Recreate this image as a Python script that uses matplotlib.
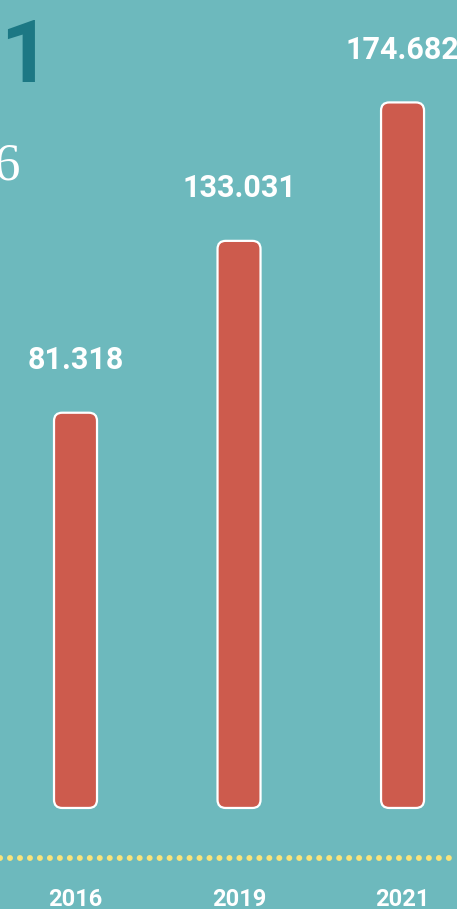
import matplotlib
matplotlib.use("Agg")
import matplotlib.pyplot as plt
from matplotlib.patches import FancyBboxPatch

# data
years = ["2016", "2019", "2021"]
values = [81.318, 133.031, 174.682]
value_labels = ["81.318", "133.031", "174.682"]

bg = "#6db9bd"
bar_color = "#cd5b4d"
dot_color = "#f9e37a"
title_color = "#1c7884"

W, H = 457, 909
plt.rcParams['font.family'] = ['Roboto', 'DejaVu Sans']

fig = plt.figure(figsize=(W / 100, H / 100), dpi=100, facecolor=bg)
ax = fig.add_axes([0, 0, 1, 1])
ax.set_facecolor(bg)
ax.axis("off")

# infographic bars don't start at zero, use a base below it
base = -37.6
xlim = (-0.4618, 2.333)
ylim = (-68.0, 205.5)
ax.set_xlim(*xlim)
ax.set_ylim(*ylim)

x = list(range(len(years)))
bars = ax.bar(x, [v - base for v in values], bottom=base, width=0.263, color=bar_color)

# swap rectangles for rounded boxes
px_x = W / (xlim[1] - xlim[0])
px_y = H / (ylim[1] - ylim[0])
for r in bars:
    x0, y0 = r.get_xy()
    r.set_visible(False)
    p = FancyBboxPatch((x0, y0), r.get_width(), r.get_height(),
                       boxstyle="round,pad=0,rounding_size=0.05",
                       mutation_aspect=px_x / px_y,
                       fc=bar_color, ec="white", lw=1.6, zorder=3)
    ax.add_patch(p)

for xi, v, lab in zip(x, values, value_labels):
    ax.annotate(lab, (xi, v), xytext=(0, 31.5), textcoords="offset points",
                ha="center", va="baseline", color="white",
                fontsize=22, fontweight="bold")

# dotted baseline
ax.plot([0, 1], [51 / H, 51 / H], transform=ax.transAxes, color=dot_color,
        lw=4.3, linestyle=(0, (0.01, 1.66)), dash_capstyle="round",
        solid_capstyle="round")

for xi, yr in zip(x, years):
    ax.text(xi, 3 / H, yr, transform=ax.get_xaxis_transform(), ha="center",
            va="baseline", color="white", fontsize=17, fontweight="bold")

# cropped heading on the left
ax.text(51 / W, 1 - 82 / H, "2021", transform=ax.transAxes, ha="right",
        va="baseline", color=title_color, fontsize=63, fontweight="bold")
ax.text(21 / W, 1 - 180 / H, "2016", transform=ax.transAxes, ha="right",
        va="baseline", color="white", fontsize=38, family="Liberation Serif")

fig.savefig("out.png", dpi=100, facecolor=bg)
